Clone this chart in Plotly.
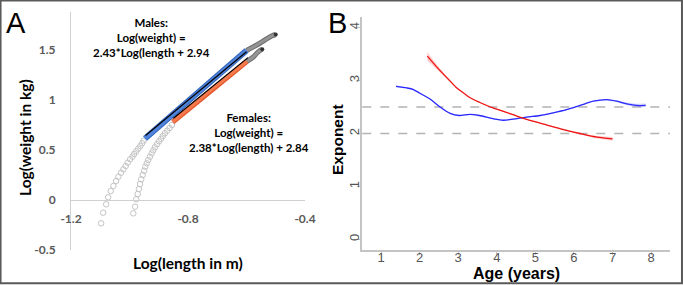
import plotly.graph_objects as go

W, H = 683, 285

# ---------------- Panel A data (log length, log weight) ----------------
male_open_x = [-1.097, -1.090, -1.080, -1.073, -1.064, -1.055, -1.046, -1.038, -1.029, -1.021,
               -1.013, -1.006, -0.998, -0.990, -0.984, -0.977, -0.970, -0.963, -0.957, -0.952]
male_open_y = [-0.233, -0.127, -0.043, 0.027, 0.090, 0.140, 0.190, 0.233, 0.273, 0.307,
               0.340, 0.373, 0.407, 0.433, 0.460, 0.487, 0.513, 0.540, 0.567, 0.593]
female_open_x = [-0.987, -0.981, -0.977, -0.972, -0.968, -0.964, -0.960, -0.955, -0.950, -0.946,
                 -0.941, -0.936, -0.930, -0.924, -0.919, -0.913, -0.906, -0.899, -0.892, -0.886,
                 -0.879, -0.871, -0.863, -0.855]
female_open_y = [-0.133, -0.067, 0.007, 0.060, 0.110, 0.160, 0.207, 0.250, 0.293, 0.333,
                 0.367, 0.400, 0.433, 0.467, 0.497, 0.527, 0.557, 0.587, 0.613, 0.640,
                 0.667, 0.693, 0.720, 0.750]
male_band_x = [-0.947, -0.860, -0.770, -0.680, -0.600]
male_band_y = [0.615, 0.840, 1.065, 1.290, 1.495]
male_tail_x = [-0.600, -0.565, -0.537, -0.514, -0.500]
male_tail_y = [1.495, 1.550, 1.600, 1.640, 1.655]
female_band_x = [-0.852, -0.736, -0.599]
female_band_y = [0.780, 1.063, 1.385]
female_tail_x = [-0.599, -0.577, -0.565, -0.554, -0.546]
female_tail_y = [1.385, 1.430, 1.467, 1.495, 1.508]
male_fit_x = [-0.945, -0.600]
male_fit_y = [0.645, 1.482]
female_fit_x = [-0.850, -0.595]
female_fit_y = [0.817, 1.424]

a_xticks = [-1.2, -0.8, -0.4]
a_xtick_labels = ["-1.2", "-0.8", "-0.4"]
a_yticks = [-0.5, 0, 0.5, 1, 1.5]
a_ytick_labels = ["-0.5", "0", "0.5", "1", "1.5"]

# ---------------- Panel B data (age, exponent) ----------------
blue_age = [1.39, 1.67, 1.84, 2.01, 2.27, 2.53, 2.79, 3.02, 3.30, 3.55, 3.90, 4.17,
            4.43, 4.77, 5.12, 5.46, 5.81, 6.16, 6.50, 6.85, 7.11, 7.37, 7.62, 7.86]
blue_exp = [2.89, 2.86, 2.83, 2.76, 2.65, 2.50, 2.38, 2.34, 2.36, 2.34, 2.28, 2.25,
            2.27, 2.31, 2.34, 2.39, 2.45, 2.53, 2.61, 2.64, 2.61, 2.56, 2.53, 2.53]
blue_ci = [0.02, 0.01, 0.01, 0.01, 0.01, 0.01, 0.01, 0.01, 0.01, 0.01, 0.01, 0.01,
           0.01, 0.01, 0.01, 0.01, 0.01, 0.01, 0.01, 0.015, 0.02, 0.025, 0.03, 0.035]
red_age = [2.20, 2.50, 2.70, 2.95, 3.15, 3.30, 3.55, 3.80, 4.00, 4.40, 4.80, 5.30, 5.70, 6.15, 6.60, 7.00]
red_exp = [3.46, 3.21, 3.06, 2.87, 2.76, 2.68, 2.59, 2.51, 2.46, 2.36, 2.26, 2.16, 2.08, 2.00, 1.93, 1.90]
red_ci = [0.08, 0.04, 0.025, 0.015, 0.01, 0.01, 0.01, 0.01, 0.01, 0.01, 0.01, 0.01, 0.012, 0.015, 0.025, 0.035]
ref_levels = [2.0, 2.5]

b_xticks = [1, 2, 3, 4, 5, 6, 7, 8]
b_yticks = [0, 1, 2, 3, 4]

# ---------------- layout helpers (pixel -> paper) ----------------
def px(x):
    return x / W

def py(y):
    return 1 - y / H

A_DOM_X = [px(71), px(305)]
A_DOM_Y = [py(250), py(12)]
A_YR = [-0.5, 1.88]
a_zero_pos = A_DOM_Y[0] + (0 - A_YR[0]) / (A_YR[1] - A_YR[0]) * (A_DOM_Y[1] - A_DOM_Y[0])

B_DOM_X = [px(362.3), px(670)]
B_DOM_Y = [py(250), py(17)]

fig = go.Figure()

circ = dict(symbol="circle-open", size=5.5, color="#c4c4c4", line=dict(width=1, color="#c4c4c4"))
fig.add_trace(go.Scatter(x=male_open_x, y=male_open_y, mode="markers", marker=circ,
                         xaxis="x", yaxis="y", showlegend=False))
fig.add_trace(go.Scatter(x=female_open_x, y=female_open_y, mode="markers", marker=circ,
                         xaxis="x", yaxis="y", showlegend=False))
# tails (grey)
for tx, ty in [(male_tail_x, male_tail_y), (female_tail_x, female_tail_y)]:
    fig.add_trace(go.Scatter(x=tx, y=ty, mode="lines", line=dict(color="#6e6e6e", width=5, shape="spline"),
                             xaxis="x", yaxis="y", showlegend=False))
    fig.add_trace(go.Scatter(x=tx, y=ty, mode="lines", line=dict(color="#949494", width=3, shape="spline"),
                             xaxis="x", yaxis="y", showlegend=False))
    fig.add_trace(go.Scatter(x=[tx[-1]], y=[ty[-1]], mode="markers",
                             marker=dict(color="#333333", size=4),
                             xaxis="x", yaxis="y", showlegend=False))
# coloured bands
fig.add_trace(go.Scatter(x=male_band_x, y=male_band_y, mode="lines",
                         line=dict(color="#3567bd", width=6), xaxis="x", yaxis="y", showlegend=False))
fig.add_trace(go.Scatter(x=male_band_x, y=male_band_y, mode="lines",
                         line=dict(color="#4f84dc", width=4), xaxis="x", yaxis="y", showlegend=False))
fig.add_trace(go.Scatter(x=female_band_x, y=female_band_y, mode="lines",
                         line=dict(color="#e3582c", width=5), xaxis="x", yaxis="y", showlegend=False))
fig.add_trace(go.Scatter(x=female_band_x, y=female_band_y, mode="lines",
                         line=dict(color="#f47a4c", width=3), xaxis="x", yaxis="y", showlegend=False))
# fits
for fx, fy in [(male_fit_x, male_fit_y), (female_fit_x, female_fit_y)]:
    fig.add_trace(go.Scatter(x=fx, y=fy, mode="lines", line=dict(color="#000000", width=1.2),
                             xaxis="x", yaxis="y", showlegend=False))

# ---------------- Panel B traces ----------------
def ribbon(xs, ys, ci, color):
    up = [y + c for y, c in zip(ys, ci)]
    lo = [y - c for y, c in zip(ys, ci)]
    return go.Scatter(x=xs + xs[::-1], y=up + lo[::-1], mode="lines", fill="toself",
                      fillcolor=color, line=dict(width=0), xaxis="x2", yaxis="y2",
                      showlegend=False, hoverinfo="skip")

fig.add_trace(ribbon(blue_age, blue_exp, blue_ci, "rgba(120,120,255,0.30)"))
fig.add_trace(ribbon(red_age, red_exp, red_ci, "rgba(255,90,90,0.30)"))
fig.add_trace(go.Scatter(x=blue_age, y=blue_exp, mode="lines",
                         line=dict(color="#2a2aff", width=1.3, shape="spline", smoothing=0.8),
                         xaxis="x2", yaxis="y2", showlegend=False))
fig.add_trace(go.Scatter(x=red_age, y=red_exp, mode="lines",
                         line=dict(color="#ee1515", width=1.3, shape="spline", smoothing=0.8),
                         xaxis="x2", yaxis="y2", showlegend=False))

shapes = []
for lv in ref_levels:
    shapes.append(dict(type="line", xref="x2 domain", x0=0, x1=1, yref="y2", y0=lv, y1=lv,
                       line=dict(color="#b3b3b3", width=1.5, dash="dash"), layer="below"))
shapes.append(dict(type="rect", xref="paper", yref="paper", x0=0.0008, x1=0.9985, y0=0.006, y1=0.998,
                   line=dict(color="#5a5a5a", width=2)))

A_FONT = "Lato, Carlito, Calibri, sans-serif"
B_FONT = "Liberation Sans, Arial, sans-serif"

def note(text, x, y, font, size, angle=0, bold=True):
    return dict(text=("<b>%s</b>" % text) if bold else text, x=px(x), y=py(y),
                xref="paper", yref="paper", xanchor="center", yanchor="middle",
                showarrow=False, align="center", textangle=angle,
                font=dict(family=font, size=size, color="#000000"))

annotations = [
    note("A", 16, 23, B_FONT, 29, bold=False),
    note("B", 337, 23, B_FONT, 29, bold=False),
    note("Males:<br>Log(weight) =<br>2.43*Log(length + 2.94", 151, 37.5, A_FONT, 11.5),
    note("Females:<br>Log(weight) =<br>2.38*Log(length) + 2.84", 249, 132, A_FONT, 11.5),
    note("Log(weight in kg)", 25, 138, A_FONT, 15.5, angle=-90),
    note("Log(length in m)", 188, 263, A_FONT, 15.5),
    note("Exponent", 337, 140, B_FONT, 15.5, angle=-90),
    note("Age (years)", 516, 273, B_FONT, 16),
]

fig.update_layout(
    template="none",
    width=W, height=H, margin=dict(l=0, r=0, t=0, b=0, pad=0, autoexpand=False),
    paper_bgcolor="white", plot_bgcolor="white", showlegend=False,
    xaxis=dict(domain=A_DOM_X, range=[-1.2, -0.4], anchor="free", position=a_zero_pos,
               tickvals=a_xticks, ticktext=a_xtick_labels, showgrid=False, zeroline=False,
               showline=True, linecolor="#d0d0d0", linewidth=1, ticks="", automargin=False,
               ticklabelstandoff=8,
               tickfont=dict(family=A_FONT, size=12, color="#595959", weight="bold")),
    yaxis=dict(domain=A_DOM_Y, range=A_YR, anchor="x", tickvals=a_yticks, ticktext=a_ytick_labels,
               showgrid=False, zeroline=False, showline=True, linecolor="#d0d0d0", linewidth=1,
               ticks="", ticklabelstandoff=12, automargin=False,
               tickfont=dict(family=A_FONT, size=12, color="#595959", weight="bold")),
    xaxis2=dict(domain=B_DOM_X, range=[0.515, 8.49], anchor="y2", tickvals=b_xticks,
                showgrid=False, zeroline=False, showline=True, linecolor="#c4c4c4", linewidth=2,
                ticks="outside", ticklen=3, tickcolor="#c4c4c4", tickwidth=1, automargin=False,
                ticklabelstandoff=-9,
                tickfont=dict(family=B_FONT, size=13, color="#555555")),
    yaxis2=dict(domain=B_DOM_Y, range=[-0.2, 4.2], anchor="x2", tickvals=b_yticks,
                showgrid=False, zeroline=False, showline=True, linecolor="#c4c4c4", linewidth=2,
                ticks="outside", ticklen=3, tickcolor="#c4c4c4", tickwidth=1, tickangle=-90,
                automargin=False, ticklabelstandoff=-7,
                tickfont=dict(family=B_FONT, size=13, color="#555555")),
    shapes=shapes, annotations=annotations,
)

fig.write_html("out.html", config={"displayModeBar": False},
               post_script="document.body.style.margin='0';document.body.style.padding='0';"
                           "document.documentElement.style.overflow='hidden';")
